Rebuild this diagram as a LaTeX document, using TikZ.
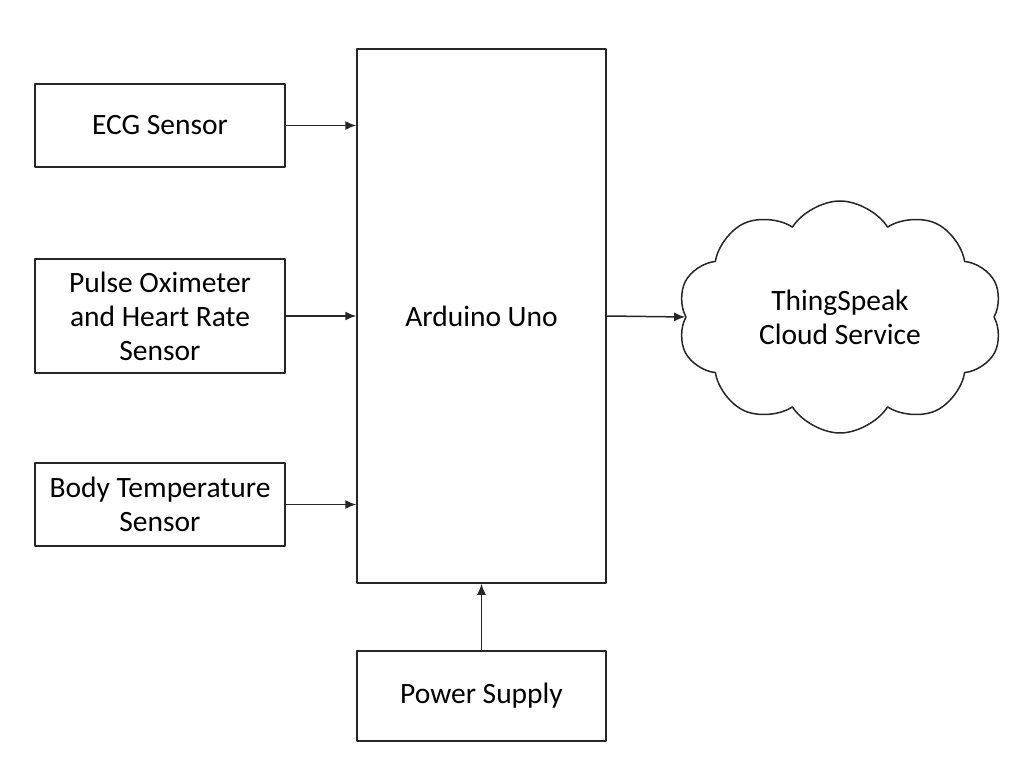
\documentclass[tikz,border=0pt]{standalone}
\usepackage{fontspec}
\setmainfont{Carlito}
\usetikzlibrary{arrows.meta,shapes.symbols}
\begin{document}
\begin{tikzpicture}[x=1pt,y=-1pt,>={Latex[length=11pt,width=9pt]},line join=round,
    font=\fontsize{29.5}{34}\selectfont,
    blk/.style={draw=black!85,line width=1.5pt,minimum width=250pt,inner sep=0pt,align=center},
    link/.style={->,draw=black!85,line width=1.5pt}]
    \useasboundingbox (0,0) rectangle (1029,770);
    % sensors
    \node[blk,minimum height=83pt] (ecg) at (160,125.5) {ECG Sensor};
    \node[blk,minimum height=114pt] (pulse) at (160,316) {Pulse Oximeter\\and Heart Rate\\Sensor};
    \node[blk,minimum height=83pt] (temp) at (160,504.5) {Body Temperature\\Sensor};
    % controller and supply
    \node[blk,minimum width=249pt,minimum height=534pt] (ard) at (481.5,316) {Arduino Uno};
    \node[blk,minimum width=249pt,minimum height=90pt] (power) at (481.5,696) {Power Supply};
    % cloud
    \node[draw=black!85,line width=1.5pt,cloud,cloud puffs=10,cloud puff arc=115,aspect=1.45,
        minimum width=325pt,minimum height=232pt,inner sep=0pt,align=center] (cloud) at (840,317) {ThingSpeak\\Cloud Service};
    \draw[link] (ecg.east) -- (ecg.east -| ard.west);
    \draw[link] (pulse.east) -- (pulse.east -| ard.west);
    \draw[link] (temp.east) -- (temp.east -| ard.west);
    \draw[link] (ard.east) -- (cloud.west);
    \draw[link] (power.north) -- (ard.south);
\end{tikzpicture}
\end{document}
